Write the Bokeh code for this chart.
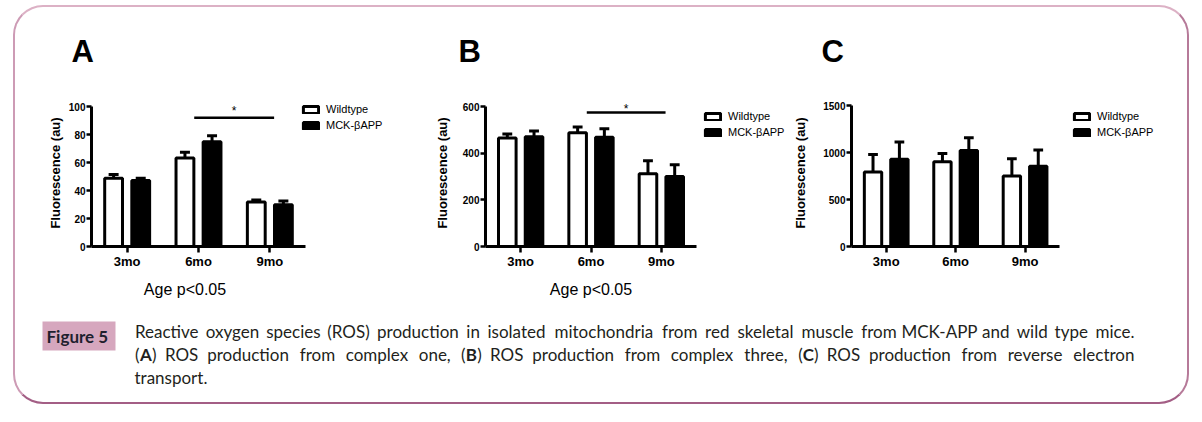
from bokeh.plotting import figure
from bokeh.models import (ColumnDataSource, Range1d, Legend, LegendItem, FixedTicker)
from bokeh.transform import dodge
from bokeh.layouts import row, column
from bokeh.embed import file_html
from bokeh.resources import INLINE
from bokeh.core.properties import value

# ---------------- data ----------------
categories = ["3mo", "6mo", "9mo"]
series_names = ["Wildtype", "MCK-βAPP"]
panel_letters = ["A", "B", "C"]

a_wildtype = [48.8, 63.3, 31.8]
a_wildtype_sem = [2.6, 4.0, 1.4]
a_mck = [47.2, 74.9, 29.9]
a_mck_sem = [1.6, 4.2, 2.6]

b_wildtype = [465, 487, 312]
b_wildtype_sem = [17, 25, 55]
b_mck = [470, 468, 300]
b_mck_sem = [25, 37, 50]

c_wildtype = [792, 902, 750]
c_wildtype_sem = [188, 88, 184]
c_mck = [927, 1022, 853]
c_mck_sem = [184, 135, 173]

a_ticks = [0, 20, 40, 60, 80, 100]
b_ticks = [0, 200, 400, 600]
c_ticks = [0, 500, 1000, 1500]

y_title = "Fluorescence (au)"
x_title = "Age p<0.05"
sig_pair = ["6mo", "9mo"]
sig_mark = "*"
a_sig_level = 92
a_star_level = 97
b_sig_level = 574
b_star_level = 591

caption_label = "Figure 5"
caption_line1 = ("Reactive oxygen species (ROS) production in isolated mitochondria "
                 "from red skeletal muscle from MCK-APP and wild type mice.")
caption_line2 = ("(A) ROS production from complex one, (B) ROS production from complex "
                 "three, (C) ROS production from reverse electron")
caption_line3 = "transport."

# ---------------- styling ----------------
AX_FONT = "Liberation Sans"
CAP_FONT = "Lato"
CAP_COLOR = "#231f20"
PANEL_H = 187          # panels occupy page y 85..272
PAGE_W = 1172          # inner width of the framed box (page x 17..1189)


def make_panel(wt, wt_sem, mck, mck_sem, ticks, y_end, width, mb_left, axis_w,
               ylab_standoff, legend_loc, sig_y=None, star_y=None):
    n = len(categories)
    frame_w = width - mb_left
    x_end = n * frame_w / axis_w
    p = figure(width=width, height=PANEL_H, x_range=Range1d(0, x_end),
               y_range=Range1d(0, y_end), output_backend="svg", toolbar_location=None,
               min_border_left=mb_left, min_border_right=0,
               min_border_top=15, min_border_bottom=25,
               border_fill_color=None, background_fill_color=None,
               outline_line_color=None)
    p.xgrid.visible = False
    p.ygrid.visible = False

    pos = [i + 0.5 for i in range(n)]
    src = ColumnDataSource(dict(
        pos=pos, wt=wt, mck=mck,
        wt_hi=[v + e for v, e in zip(wt, wt_sem)],
        mck_hi=[v + e for v, e in zip(mck, mck_sem)]))
    off, bw, cap = 0.19, 0.25, 0.07
    wt_r = p.vbar(x=dodge("pos", -off), top="wt", width=bw, source=src,
                  fill_color="white", line_color="black", line_width=3)
    mck_r = p.vbar(x=dodge("pos", off), top="mck", width=bw, source=src,
                   fill_color="black", line_color="black", line_width=3)
    for o, lo, hi in [(-off, "wt", "wt_hi"), (off, "mck", "mck_hi")]:
        p.segment(x0=dodge("pos", o), y0=lo, x1=dodge("pos", o), y1=hi,
                  source=src, line_color="black", line_width=3)
        p.segment(x0=dodge("pos", o - cap), y0=hi, x1=dodge("pos", o + cap), y1=hi,
                  source=src, line_color="black", line_width=3)

    yax = p.yaxis[0]
    yax.ticker = FixedTicker(ticks=ticks)
    yax.bounds = (0, ticks[-1])
    yax.axis_line_width = 3
    yax.axis_line_color = "black"
    yax.major_tick_line_width = 2.5
    yax.major_tick_line_color = "black"
    yax.major_tick_out = 5
    yax.major_tick_in = 0
    yax.minor_tick_line_color = None
    yax.major_label_text_font = AX_FONT
    yax.major_label_text_font_size = "10px"
    yax.major_label_text_font_style = "bold"
    yax.major_label_text_color = "black"
    yax.major_label_standoff = 1
    yax.axis_label = y_title
    yax.axis_label_text_font = AX_FONT
    yax.axis_label_text_font_size = "13px"
    yax.axis_label_text_font_style = "bold"
    yax.axis_label_text_color = "black"
    yax.axis_label_standoff = ylab_standoff

    xax = p.xaxis[0]
    xax.ticker = FixedTicker(ticks=pos)
    xax.major_label_overrides = {pp: c for pp, c in zip(pos, categories)}
    xax.bounds = (0, n)
    xax.axis_line_width = 3
    xax.axis_line_color = "black"
    xax.major_tick_line_width = 2.5
    xax.major_tick_line_color = "black"
    xax.major_tick_out = 6
    xax.major_tick_in = 0
    xax.minor_tick_line_color = None
    xax.major_label_text_font = AX_FONT
    xax.major_label_text_font_size = "13px"
    xax.major_label_text_font_style = "bold"
    xax.major_label_text_color = "black"
    xax.major_label_standoff = 1

    leg = Legend(items=[LegendItem(label=series_names[0], renderers=[wt_r]),
                        LegendItem(label=series_names[1], renderers=[mck_r])],
                 location=legend_loc, margin=0, padding=0, spacing=0,
                 glyph_width=19, glyph_height=9, label_height=16, label_standoff=6,
                 label_text_font=AX_FONT, label_text_font_size="11px",
                 label_text_color="black", border_line_color=None,
                 background_fill_alpha=0)
    p.add_layout(leg)

    if sig_y is not None:
        ssrc = ColumnDataSource(dict(a=[pos[categories.index(sig_pair[0])]],
                                     b=[pos[categories.index(sig_pair[1])]],
                                     y=[sig_y], sy=[star_y], t=[sig_mark]))
        p.segment(x0=dodge("a", -0.06), y0="y", x1=dodge("b", 0.06), y1="y",
                  source=ssrc, line_color="black", line_width=2.5)
        p.text(x=dodge("a", 0.5), y="sy", text="t", source=ssrc,
               text_font=value(AX_FONT), text_font_size="12px", text_color="black",
               text_align="center", text_baseline="middle")
    return p


pa = make_panel(a_wildtype, a_wildtype_sem, a_mck, a_mck_sem, a_ticks, 105,
                width=403, mb_left=76, axis_w=214, ylab_standoff=3,
                legend_loc=(210, 113), sig_y=a_sig_level, star_y=a_star_level)
pb = make_panel(b_wildtype, b_wildtype_sem, b_mck, b_mck_sem, b_ticks, 630,
                width=372, mb_left=67, axis_w=211, ylab_standoff=10,
                legend_loc=(218, 106), sig_y=b_sig_level, star_y=b_star_level)
pc = make_panel(c_wildtype, c_wildtype_sem, c_mck, c_mck_sem, c_ticks, 1564,
                width=PAGE_W - 403 - 372, mb_left=55, axis_w=212, ylab_standoff=12,
                legend_loc=(221, 106))

# ---------------- panel letters ----------------
head = figure(width=PAGE_W, height=77, x_range=Range1d(17, 17 + PAGE_W),
              y_range=Range1d(85, 8), output_backend="svg", toolbar_location=None,
              x_axis_type=None, y_axis_type=None, min_border=0, border_fill_color=None,
              background_fill_color=None, outline_line_color=None)
head.text(x=[73, 460, 823], y=[51.5, 51.5, 51.5], text=panel_letters,
          text_font=value(AX_FONT), text_font_size="31px", text_font_style="bold",
          text_color="black", text_baseline="middle")

# ---------------- x titles + caption ----------------
CAL = {' ': 463, '(': 621, ')': 621, ',': 511, '.': 517, '-': 627, 'A': 1185, 'B': 1114,
       'C': 1092, 'K': 1064, 'M': 1751, 'O': 1356, 'P': 1058, 'R': 1112, 'S': 941,
       'a': 981, 'c': 866, 'd': 1076, 'e': 1019, 'f': 625, 'g': 964, 'h': 1076, 'i': 470,
       'k': 931, 'l': 470, 'm': 1636, 'n': 1076, 'o': 1080, 'p': 1076, 'r': 714, 's': 801,
       't': 686, 'u': 1076, 'v': 925, 'w': 1464, 'x': 887, 'y': 927}
CAL_B = {'A': 1242, 'B': 1144, 'C': 1086}
EM = 18.67


def cw(s, bold=False):
    tab = CAL_B if bold else CAL
    return sum(tab.get(ch, CAL.get(ch, 1000)) for ch in s) * EM / 2048


def pieces(word):
    if len(word) == 3 and word[0] == "(" and word[2] == ")" and word[1].isupper():
        return [("(", False), (word[1], True), (")", False)]
    return [(word, False)]


def justify(line, x0, x1, y):
    words = [pieces(w) for w in line.split(" ")]
    widths = [sum(cw(t, b) for t, b in w) for w in words]
    gap = (x1 - x0 - sum(widths)) / (len(words) - 1)
    out = []
    x = x0
    for w, wd in zip(words, widths):
        if len(w) == 1:
            out.append((x + wd / 2, y, w[0][0], False))
        else:
            px = x
            for t, b in w:
                out.append((px + cw(t, b) / 2, y, t, b))
                px += cw(t, b)
        x += wd + gap
    return out


cap_fig = figure(width=PAGE_W, height=131, x_range=Range1d(17, 17 + PAGE_W),
                 y_range=Range1d(403, 272), output_backend="svg", toolbar_location=None,
                 x_axis_type=None, y_axis_type=None, min_border=0, border_fill_color=None,
                 background_fill_color=None, outline_line_color=None)
# x-axis titles of panels A and B
cap_fig.text(x=[186.5, 592.5], y=[290, 290], text=[x_title, x_title],
             text_font=value(AX_FONT), text_font_size="16px", text_color="black",
             text_align="center", text_baseline="middle")

cap_fig.quad(left=[44], right=[117], top=[322], bottom=[351], fill_color="#d6a7be",
             line_color=None)
cap_fig.text(x=[48], y=[337], text=[caption_label], text_font=value(CAP_FONT),
             text_font_size="17px", text_font_style="bold", text_color="#1f1f2e",
             text_baseline="middle")

items = justify(caption_line1, 136, 1137, 332) + justify(caption_line2, 136, 1137, 355)
norm = [it for it in items if not it[3]]
bold = [it for it in items if it[3]]
cap_fig.text(x=[i[0] for i in norm], y=[i[1] for i in norm], text=[i[2] for i in norm],
             text_font=value(CAP_FONT), text_font_size="17px", text_color=CAP_COLOR,
             text_align="center", text_baseline="middle")
cap_fig.text(x=[i[0] for i in bold], y=[i[1] for i in bold], text=[i[2] for i in bold],
             text_font=value(CAP_FONT), text_font_size="17px", text_font_style="bold",
             text_color=CAP_COLOR, text_align="center", text_baseline="middle")
cap_fig.text(x=[136], y=[378], text=[caption_line3], text_font=value(CAP_FONT),
             text_font_size="17px", text_color=CAP_COLOR, text_baseline="middle")

panels = row(pa, pb, pc, spacing=0)
page = column(head, panels, cap_fig, spacing=0, styles={
    "border-style": "solid",
    "border-width": "2px",
    "border-color": "#dcb1c5 #b67a99 #a35e85 #cd9bb5",
    "border-radius": "30px",
    "margin-left": "7px",
    "margin-top": "-2px",
    "transform": "translate(6px, 7px)",
})

open("out.html", "w").write(file_html(page, INLINE, title="Figure 5"))
